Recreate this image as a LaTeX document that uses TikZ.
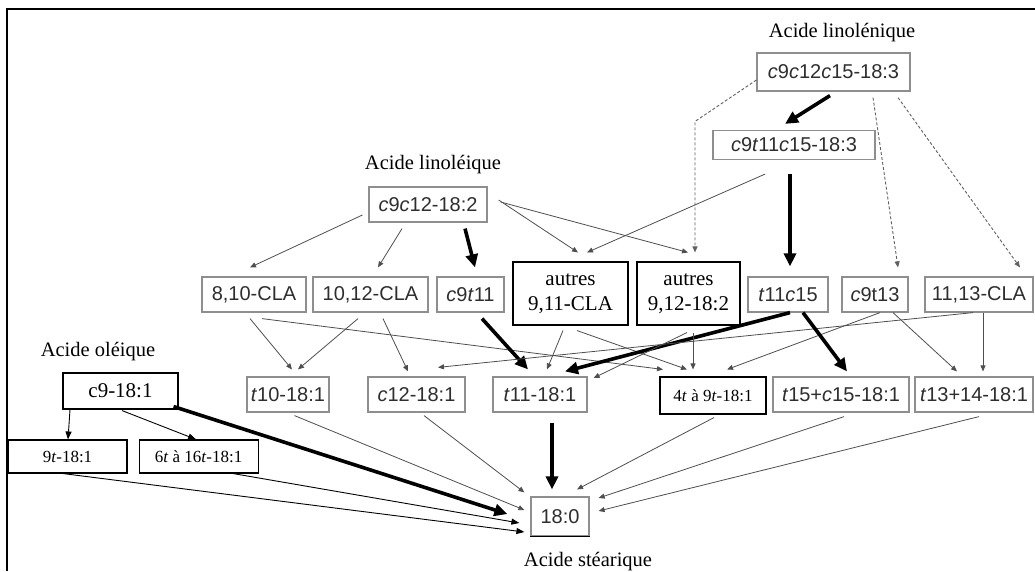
\documentclass[tikz,border=0pt]{standalone}
\usepackage{fontspec}
\setmainfont{Liberation Serif}
\setsansfont{Liberation Sans}
\usepackage{xcolor}
\usepackage{tikz}
\usetikzlibrary{arrows.meta,positioning}
\definecolor{boxgray}{HTML}{8E8E8E}
\definecolor{textgray}{HTML}{2E2E2E}
\definecolor{linegray}{HTML}{4E4E4E}
\definecolor{dashgray}{HTML}{606060}

\begin{document}
\begin{tikzpicture}[
    x=1pt,y=-1pt,
    fa/.style={draw=boxgray,line width=1.2pt,fill=white,text=textgray,font=\sffamily\fontsize{20}{24}\selectfont,inner sep=0pt,minimum height=35pt},
    wb/.style={draw=black,line width=1.1pt,fill=white,align=center,font=\fontsize{21}{25}\selectfont,inner sep=0pt},
    wbs/.style={wb,font=\fontsize{17}{20}\selectfont},
    lbl/.style={font=\fontsize{20.5}{24}\selectfont},
    conn/.style={-{Triangle[length=6pt,width=5pt]},line width=0.8pt,draw=linegray},
    blk/.style={-{Triangle[length=8pt,width=6pt]},line width=0.9pt,draw=black},
    heavy/.style={-{Triangle[length=13pt,width=12pt]},line width=3.6pt,draw=black},
    dsh/.style={-{Triangle[length=6pt,width=5pt]},line width=0.9pt,draw=dashgray,dash pattern=on 3pt off 2pt}
  ]
    \useasboundingbox (0,0) rectangle (1035,571);
    \draw[line width=2pt] (7,571) -- (7,9) -- (1035,9);

    \node[lbl] (tlnA) at (842,33) {Acide linolénique};
    \node[fa,minimum width=153pt,minimum height=38pt] (lnA) at (833.5,72) {\textit{c}9\textit{c}12\textit{c}15-18:3};
    \node[fa,minimum width=162pt,minimum height=29pt] (cln) at (794,145) {\textit{c}9\textit{t}11\textit{c}15-18:3};

    \node[lbl] (tla) at (433,165) {Acide linoléique};
    \node[fa,minimum width=118pt] (la) at (428,204.5) {\textit{c}9\textit{c}12-18:2};

    \node[fa,minimum width=104pt] (cla810) at (254,294.5) {8,10-CLA};
    \node[fa,minimum width=115pt] (cla1012) at (370.5,294.5) {10,12-CLA};
    \node[fa,minimum width=67pt] (c9t11) at (470.5,294.5) {\textit{c}9\textit{t}11};
    \node[wb,minimum width=115pt,minimum height=63pt] (aut911) at (570.5,293.5) {autres\\9,11-CLA};
    \node[wb,minimum width=103pt,minimum height=63pt] (aut912) at (688.5,293.5) {autres\\9,12-18:2};
    \node[fa,minimum width=80pt] (t11c15) at (788,294.5) {\textit{t}11\textit{c}15};
    \node[fa,minimum width=66pt] (c9t13) at (875,294.5) {\textit{c}9t13};
    \node[fa,minimum width=108pt] (cla1113) at (979,294.5) {11,13-CLA};

    \node[fa,minimum width=82pt] (t10) at (288,394.5) {\textit{t}10-18:1};
    \node[fa,minimum width=97pt] (c12) at (416.5,394.5) {\textit{c}12-18:1};
    \node[fa,minimum width=94pt] (t11) at (540,394.5) {\textit{t}11-18:1};
    \node[wbs,minimum width=106pt,minimum height=37pt] (t49) at (713,395.5) {4\textit{t} à 9\textit{t}-18:1};
    \node[fa,minimum width=136pt] (t15) at (841,394.5) {\textit{t}15+\textit{c}15-18:1};
    \node[fa,minimum width=118pt] (t13) at (974,394.5) {\textit{t}13+14-18:1};

    \node[lbl] (tol) at (98,352) {Acide oléique};
    \node[wb,minimum width=115pt,minimum height=36pt] (c9) at (120.5,391) {c9-18:1};
    \node[wbs,minimum width=119pt,minimum height=33pt] (t9) at (67.5,456.5) {9\textit{t}-18:1};
    \node[wbs,minimum width=119pt,minimum height=33pt,right=11pt of t9] (t616) {6\textit{t} à 16\textit{t}-18:1};

    \node[fa,minimum width=58pt,minimum height=39pt] (st) at (560,516.5) {18:0};
    \draw[line width=1.6pt] (st.south west) -- (st.south east);
    \node[lbl] (tst) at (588,562) {Acide stéarique};

    \draw[heavy] ([xshift=-3.5pt,yshift=-4pt]lnA.south) -- ([xshift=-9pt,yshift=6pt]cln.north);
    \draw[dsh] ([yshift=-8pt]lnA.west) -- ([xshift=6.5pt,yshift=140pt]aut912.north) -- ([xshift=6.5pt,yshift=9pt]aut912.north);
    \draw[dsh] ([xshift=39.5pt,yshift=-6pt]lnA.south) -- ([xshift=23pt,yshift=9pt]c9t13.north);
    \draw[dsh] ([xshift=64.5pt,yshift=-6pt]lnA.south) -- ([xshift=41pt,yshift=9pt]cla1113.north);
    \draw[conn] ([xshift=-29pt,yshift=-14pt]cln.south) -- ([xshift=16.5pt,yshift=9pt]aut911.north);
    \draw[heavy] ([xshift=-4pt,yshift=-14pt]cln.south) -- ([xshift=2pt,yshift=10pt]t11c15.north);

    \draw[conn] ([xshift=-6pt,yshift=-10.5pt]la.west) -- ([xshift=-4pt,yshift=9pt]cla810.north);
    \draw[conn] ([xshift=-26pt,yshift=-6pt]la.south) -- ([xshift=7.5pt,yshift=9pt]cla1012.north);
    \draw[heavy] ([xshift=37pt,yshift=-6pt]la.south) -- ([xshift=4.5pt,yshift=9pt]c9t11.north);
    \draw[conn] ([xshift=11pt,yshift=4.5pt]la.east) -- ([xshift=7.5pt,yshift=9pt]aut911.north);
    \draw[conn] ([xshift=13pt,yshift=2.5pt]la.east) -- ([xshift=-0.5pt,yshift=9pt]aut912.north);

    \draw[conn] ([xshift=-4pt,yshift=-6pt]cla810.south) -- ([xshift=4pt,yshift=7pt]t10.north);
    \draw[conn] ([xshift=-12.5pt,yshift=-6pt]cla1012.south) -- ([xshift=10pt,yshift=7pt]t10.north);
    \draw[conn] ([xshift=12.5pt,yshift=-6pt]cla1012.south) -- ([xshift=-8.5pt,yshift=5pt]c12.north);
    \draw[conn] ([xshift=8pt,yshift=-6pt]cla810.south) -- ([xshift=-50pt,yshift=7pt]t49.north);
    \draw[heavy] ([xshift=11.5pt,yshift=-6pt]c9t11.south) -- ([xshift=-12pt,yshift=7pt]t11.north);
    \draw[conn] ([xshift=-7.5pt,yshift=-5pt]aut911.south) -- ([xshift=7pt,yshift=7pt]t11.north);
    \draw[conn] ([xshift=6.5pt,yshift=-5pt]aut911.south) -- ([xshift=-26pt,yshift=7pt]t49.north);
    \draw[heavy] ([xshift=2pt]t11c15.south) -- ([xshift=25pt,yshift=5pt]t11.north);
    \draw[conn] ([xshift=-1.5pt,yshift=-7pt]aut912.south) -- ([xshift=6pt,yshift=16.5pt]t11.east);
    \draw[conn] ([xshift=4.5pt,yshift=-7pt]aut912.south) -- ([xshift=-20pt,yshift=7pt]t49.north);
    \draw[conn] ([xshift=5pt]c9t13.south) -- ([xshift=14pt,yshift=7pt]t49.north);
    \draw[conn] ([xshift=18pt]c9t13.south) -- ([xshift=-17pt,yshift=5pt]t13.north);
    \draw[conn] ([xshift=4pt]cla1113.south) -- ([xshift=9pt,yshift=5pt]t13.north);
    \draw[conn] ([xshift=-6pt]cla1113.south) -- ([xshift=21.5pt,yshift=9pt]c12.north);
    \draw[heavy] ([xshift=15pt]t11c15.south) -- ([xshift=6pt,yshift=5pt]t15.north);

    \draw[conn] ([xshift=6.5pt,yshift=-3pt]t10.south) -- ([xshift=-6pt,yshift=6.5pt]st.west);
    \draw[conn] ([xshift=7.5pt,yshift=-3pt]c12.south) -- ([xshift=-6pt,yshift=4pt]st.north west);
    \draw[heavy] ([xshift=12pt,yshift=-10pt]t11.south) -- ([xshift=-8pt,yshift=7pt]st.north);
    \draw[conn] ([xshift=1pt,yshift=-3pt]t49.south) -- ([xshift=17pt,yshift=7pt]st.north);
    \draw[conn] ([xshift=3pt,yshift=-4pt]t15.south) -- ([xshift=9pt,yshift=18.5pt]st.east);
    \draw[conn] ([xshift=5pt,yshift=-4pt]t13.south) -- ([xshift=9pt,yshift=5.5pt]st.east);

    \draw[blk] ([xshift=-50.5pt]c9.south) -- ([xshift=0.5pt]t9.north);
    \draw[blk] ([xshift=1.5pt,yshift=-1pt]c9.south) -- ([xshift=-2.5pt]t616.north);
    \draw[heavy] ([xshift=-5pt,yshift=3pt]c9.south east) -- ([xshift=-23pt,yshift=2.5pt]st.west);
    \draw[blk] ([xshift=34.5pt]t616.south) -- ([xshift=-11pt,yshift=-6.5pt]st.west);
    \draw[blk] ([xshift=-4.5pt]t9.south) -- ([xshift=-6pt,yshift=-15.5pt]st.west);
  \end{tikzpicture}
\end{document}
